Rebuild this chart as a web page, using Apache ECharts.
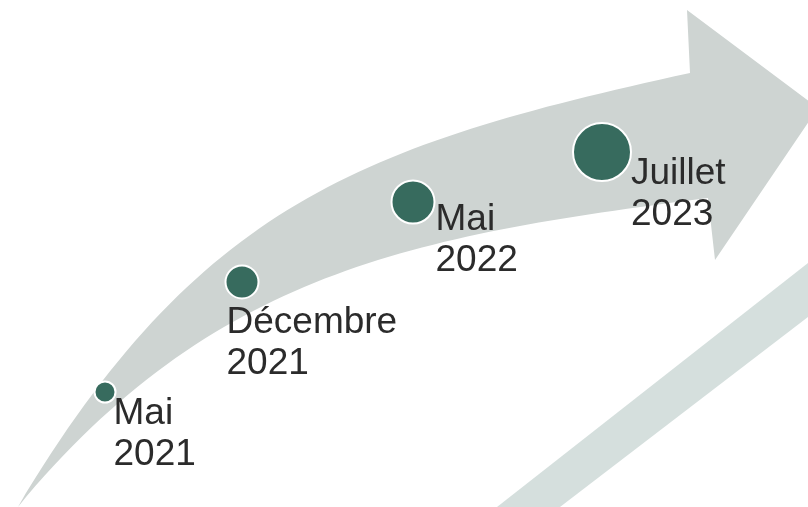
<!DOCTYPE html>
<html>
<head>
<meta charset="utf-8">
<title>Timeline</title>
<script src="https://cdn.jsdelivr.net/npm/echarts@6/dist/echarts.min.js"></script>
<style>
  html, body { margin: 0; padding: 0; background: #fff; }
  #chart { width: 808px; height: 507px; }
</style>
</head>
<body>
<div id="chart"></div>
<script>
  // milestones
  var months = ['Mai', 'Décembre', 'Mai', 'Juillet'];
  var years = ['2021', '2021', '2022', '2023'];
  // where each milestone sits along the arrow, in page units (0..808 / 0..507 from top)
  var trackX = [105, 242, 413, 602];
  var trackY = [392, 282, 202, 152];

  // look of the dots and labels
  var dotSizes = [21, 33, 43, 58];
  var labelPos = [[20, 13], [2, 38], [45, 20], [59, 31]];

  // decoration: curved arrow outline (cubic curves) and the pale diagonal band
  var arrowTop = [[18, 507], [198, 205.5], [360, 145], [690, 73]];
  var arrowHead = [[687, 10], [818, 108], [715, 260], [708, 198]];
  var arrowBottom = [[708, 198], [412, 236], [213, 272], [18, 507]];
  var band = [[497, 507], [808, 263], [808, 317], [560, 507]];

  var chart = echarts.init(document.getElementById('chart'));

  function shapeItem(params, api) {
    function c(p) { return api.coord(p); }
    var t = arrowTop.map(c), h = arrowHead.map(c), b = arrowBottom.map(c);
    var d = 'M' + t[0] + ' C' + t[1] + ' ' + t[2] + ' ' + t[3];
    h.forEach(function (p) { d += ' L' + p; });
    d += ' C' + b[1] + ' ' + b[2] + ' ' + b[3] + ' Z';
    var bp = band.map(c);
    return {
      type: 'group',
      children: [
        { type: 'polygon', shape: { points: bp }, style: { fill: '#d5dfdd' } },
        { type: 'path', shape: { pathData: d.replace(/,/g, ' ') }, style: { fill: '#ced4d2' } }
      ]
    };
  }

  var points = trackX.map(function (x, i) {
    return {
      value: [x, trackY[i]],
      name: months[i] + '\n' + years[i],
      symbolSize: dotSizes[i],
      label: { position: labelPos[i] }
    };
  });

  chart.setOption({
    animation: false,
    grid: { left: 0, right: 0, top: 0, bottom: 0 },
    xAxis: { type: 'value', min: 0, max: 808, show: false },
    yAxis: { type: 'value', min: 0, max: 507, inverse: true, show: false },
    series: [
      {
        type: 'custom',
        silent: true,
        renderItem: shapeItem,
        data: [[0, 0]],
        z: 1
      },
      {
        type: 'scatter',
        silent: true,
        z: 3,
        data: points,
        itemStyle: { color: '#376b5e', borderColor: '#ffffff', borderWidth: 2, opacity: 1 },
        label: {
          show: true,
          formatter: '{b}',
          align: 'left',
          verticalAlign: 'top',
          fontFamily: 'Liberation Sans',
          fontSize: 37,
          lineHeight: 41,
          color: '#2b2b2b'
        }
      }
    ]
  });
</script>
</body>
</html>
